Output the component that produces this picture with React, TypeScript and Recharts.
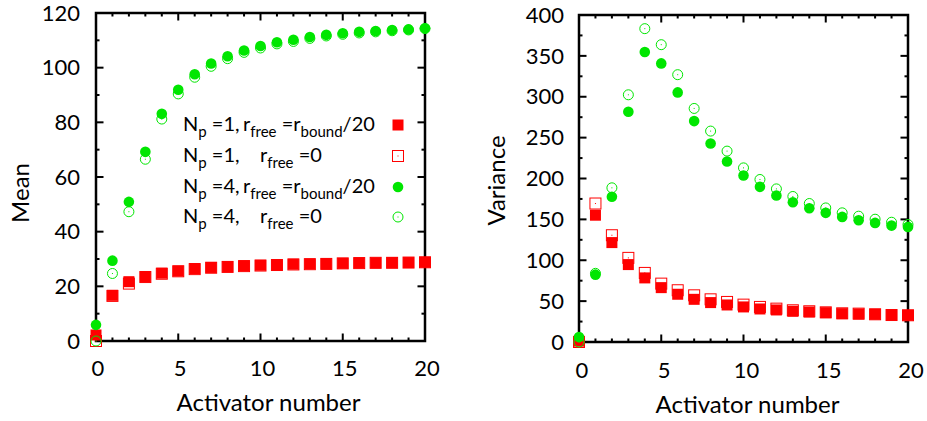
import React from 'react';
import { ScatterChart, Scatter, XAxis, YAxis, Legend, ReferenceArea } from 'recharts';

const RED = '#ff0000';
const GREEN = '#00e600';
const FONT = 'Lato, "Open Sans", sans-serif';

// activator number (x axis)
const activators = [0, 1, 2, 3, 4, 5, 6, 7, 8, 9, 10, 11, 12, 13, 14, 15, 16, 17, 18, 19, 20];

// Mean (left panel)
const meanNp1Bound = [2.2, 16.7, 21.7, 23.6, 24.8, 25.6, 26.5, 26.9, 27.2, 27.5, 27.7, 27.8, 28.1, 28.2, 28.3, 28.4, 28.6, 28.6, 28.7, 28.7, 28.8];
const meanNp1Zero = [0, 16.5, 21.0, 23.4, 24.6, 25.5, 26.3, 26.8, 27.1, 27.4, 27.6, 27.8, 28.0, 28.1, 28.2, 28.4, 28.5, 28.6, 28.6, 28.7, 28.8];
const meanNp4Bound = [5.9, 29.4, 50.9, 69.2, 83.1, 91.9, 97.6, 101.5, 104.2, 106.3, 107.9, 109.3, 110.2, 111.2, 112.0, 112.6, 113.1, 113.4, 113.8, 114.0, 114.4];
const meanNp4Zero = [0, 24.7, 47.3, 66.5, 81.2, 90.4, 96.5, 100.5, 103.3, 105.6, 107.2, 108.7, 109.6, 110.7, 111.6, 112.2, 112.7, 113.1, 113.5, 113.8, 114.3];

// Variance (right panel)
const varNp1Bound = [1, 155.1, 121.6, 94.7, 78.4, 66.5, 58.4, 52.2, 48.2, 45.3, 42.9, 40.4, 39.2, 37.6, 36.7, 35.9, 34.7, 34.3, 33.9, 33.1, 32.7];
const varNp1Zero = [0, 169.4, 130.6, 102.9, 84.5, 71.4, 63.3, 57.1, 52.2, 49.0, 45.7, 42.9, 40.8, 38.8, 37.6, 36.3, 35.1, 34.7, 33.9, 33.0, 32.7];
const varNp4Bound = [6, 82.4, 177.6, 281.6, 354.7, 340.8, 305.3, 270.2, 242.9, 220.8, 203.7, 189.8, 179.2, 171.0, 163.7, 158.0, 153.0, 149.0, 145.7, 142.4, 140.8];
const varNp4Zero = [0, 84, 188.6, 302.4, 383.3, 363.7, 327.0, 285.7, 258.0, 233.5, 213.0, 198.8, 187.3, 178.0, 169.4, 164.0, 158.0, 153.9, 150.2, 146.5, 143.7];

// ticks
const xTicks = [0, 1, 2, 3, 4, 5, 6, 7, 8, 9, 10, 11, 12, 13, 14, 15, 16, 17, 18, 19, 20];
const meanTicks = [0, 10, 20, 30, 40, 50, 60, 70, 80, 90, 100, 110, 120];
const varTicks = [0, 25, 50, 75, 100, 125, 150, 175, 200, 225, 250, 275, 300, 325, 350, 375, 400];

const toPoints = (ys: number[]) => activators.map((x, i) => ({ x, y: ys[i] }));

const FilledSquare = (p: any) => (
  <rect x={p.cx - 5.5} y={p.cy - 5.5} width={11} height={11} fill={RED} />
);
const OpenSquare = (p: any) => (
  <g>
    <rect x={p.cx - 5.5} y={p.cy - 5.5} width={11} height={11} fill="none" stroke={RED} strokeWidth={1} />
    <rect x={p.cx - 0.5} y={p.cy - 0.5} width={1} height={1} fill={RED} />
  </g>
);
const FilledCircle = (p: any) => <circle cx={p.cx} cy={p.cy} r={5.3} fill={GREEN} />;
const OpenCircle = (p: any) => (
  <g>
    <circle cx={p.cx} cy={p.cy} r={5} fill="none" stroke={GREEN} strokeWidth={1} />
    <rect x={p.cx - 0.5} y={p.cy - 0.5} width={1} height={1} fill={GREEN} />
  </g>
);

// inward tick marks, drawn as scatter series along each border of the frame
const makeTickShape = (side: string, key: 'x' | 'y', major: number) => (p: any) => {
  const v = p.payload ? p.payload[key] : 0;
  const len = Math.abs(v % major) < 1e-9 ? 7.5 : 3.5;
  const w = 2;
  if (side === 'bottom') return <rect x={p.cx - w / 2} y={p.cy - len} width={w} height={len} fill="#000" />;
  if (side === 'top') return <rect x={p.cx - w / 2} y={p.cy} width={w} height={len} fill="#000" />;
  if (side === 'left') return <rect x={p.cx} y={p.cy - w / 2} width={len} height={w} fill="#000" />;
  return <rect x={p.cx - len} y={p.cy - w / 2} width={len} height={w} fill="#000" />;
};

// tick labels only
const TickLabel = (props: any) => {
  const { x, y, payload, side, major, labelGap, dx = 0 } = props;
  const v = payload.value;
  if (Math.abs(v % major) > 1e-9) return <g />;
  if (side === 'bottom') {
    return (
      <text x={x + dx} y={y + labelGap} dy="0.35em" textAnchor="middle" fontSize={22} fontFamily={FONT} fill="#000">
        {v}
      </text>
    );
  }
  return (
    <text x={x - labelGap} y={y} dy="0.35em" textAnchor="end" fontSize={22} fontFamily={FONT} fill="#000">
      {v}
    </text>
  );
};

const LegendMarker = ({ kind }: { kind: string }) => (
  <svg width={14} height={14} style={{ position: 'absolute', left: 208, top: -7 }}>
    {kind === 'fs' && <FilledSquare cx={7} cy={7} />}
    {kind === 'os' && <OpenSquare cx={7} cy={7} />}
    {kind === 'fc' && <FilledCircle cx={7} cy={7} />}
    {kind === 'oc' && <OpenCircle cx={7} cy={7} />}
  </svg>
);

const subStyle: React.CSSProperties = { fontSize: 15, verticalAlign: -6, lineHeight: 0 };

const legendRows = [
  { np: '1', bound: true, kind: 'fs', top: 15 },
  { np: '1', bound: false, kind: 'os', top: 46 },
  { np: '4', bound: true, kind: 'fc', top: 77 },
  { np: '4', bound: false, kind: 'oc', top: 107 },
];

const MeanLegend = () => (
  <div style={{ position: 'relative', width: 230, height: 130, fontFamily: FONT, fontSize: 20, color: '#000' }}>
    {legendRows.map((r, i) => (
      <div key={i} style={{ position: 'absolute', left: 0, top: r.top, height: 0 }}>
        <span style={{ position: 'absolute', left: 0, top: -14, whiteSpace: 'nowrap', lineHeight: '24px' }}>
          N<span style={subStyle}>p</span> ={r.np},
        </span>
        <span
          style={{ position: 'absolute', left: r.bound ? 60 : 77, top: -14, whiteSpace: 'nowrap', lineHeight: '24px' }}
        >
          r<span style={subStyle}>free</span> ={r.bound ? <>r<span style={subStyle}>bound</span>/20</> : '0'}
        </span>
        <LegendMarker kind={r.kind} />
      </div>
    ))}
  </div>
);

const Title = ({ text, x, y, rotate }: { text: string; x: number; y: number; rotate?: boolean }) => (
  <text
    x={x}
    y={y}
    dy="0.35em"
    textAnchor="middle"
    fontSize={24}
    fontFamily={FONT}
    fill="#000"
    transform={rotate ? `rotate(-90, ${x}, ${y})` : undefined}
  >
    {text}
  </text>
);

// frame + inward ticks for a panel with x in [0,20] and y in [0,yMax]
function frameSeries(yMax: number, yTicks: number[], yMajor: number) {
  return [
    <ReferenceArea key="frame" x1={0} x2={20} y1={0} y2={yMax} fill="#ffffff" fillOpacity={0} stroke="#000" strokeWidth={2.5} />,
    <Scatter key="tb" data={xTicks.map((x) => ({ x, y: 0 }))} shape={makeTickShape('bottom', 'x', 5)} isAnimationActive={false} />,
    <Scatter key="tt" data={xTicks.map((x) => ({ x, y: yMax }))} shape={makeTickShape('top', 'x', 5)} isAnimationActive={false} />,
    <Scatter key="tl" data={yTicks.map((y) => ({ x: 0, y }))} shape={makeTickShape('left', 'y', yMajor)} isAnimationActive={false} />,
    <Scatter key="tr" data={yTicks.map((y) => ({ x: 20, y }))} shape={makeTickShape('right', 'y', yMajor)} isAnimationActive={false} />,
  ];
}

function MeanChart() {
  return (
    <ScatterChart width={463} height={421} margin={{ top: 13, right: 38, bottom: 20, left: 0 }}>
      <XAxis
        dataKey="x"
        type="number"
        domain={[0, 20]}
        ticks={xTicks}
        interval={0}
        height={60}
        tickLine={false}
        axisLine={false}
        tick={<TickLabel side="bottom" major={5} labelGap={19} dx={2} />}
        label={{ content: (p: any) => <Title text="Activator number" x={p.viewBox.x + p.viewBox.width / 2 + 8} y={p.viewBox.y + 62} /> }}
      />
      <YAxis
        dataKey="y"
        type="number"
        domain={[0, 120]}
        ticks={meanTicks}
        interval={0}
        width={96}
        tickLine={false}
        axisLine={false}
        tick={<TickLabel side="left" major={20} labelGap={8} />}
        label={{ content: (p: any) => <Title text="Mean" x={21} y={p.viewBox.y + p.viewBox.height / 2 + 16} rotate /> }}
      />
      <Legend
        layout="horizontal"
        verticalAlign="middle"
        align="center"
        content={() => <MeanLegend />}
        wrapperStyle={{ left: 183, top: 110, width: 230, height: 130 }}
      />
      {frameSeries(120, meanTicks, 20)}
      <Scatter data={toPoints(meanNp1Bound)} shape={FilledSquare} isAnimationActive={false} />
      <Scatter data={toPoints(meanNp1Zero)} shape={OpenSquare} isAnimationActive={false} />
      <Scatter data={toPoints(meanNp4Bound)} shape={FilledCircle} isAnimationActive={false} />
      <Scatter data={toPoints(meanNp4Zero)} shape={OpenCircle} isAnimationActive={false} />
    </ScatterChart>
  );
}

function VarianceChart() {
  return (
    <ScatterChart width={464} height={421} margin={{ top: 15, right: 19, bottom: 19, left: 0 }}>
      <XAxis
        dataKey="x"
        type="number"
        domain={[0, 20]}
        ticks={xTicks}
        interval={0}
        height={60}
        tickLine={false}
        axisLine={false}
        tick={<TickLabel side="bottom" major={5} labelGap={20} dx={3} />}
        label={{ content: (p: any) => <Title text="Activator number" x={p.viewBox.x + p.viewBox.width / 2 + 4} y={p.viewBox.y + 63} /> }}
      />
      <YAxis
        dataKey="y"
        type="number"
        domain={[0, 400]}
        ticks={varTicks}
        interval={0}
        width={116}
        tickLine={false}
        axisLine={false}
        tick={<TickLabel side="left" major={50} labelGap={7} />}
        label={{ content: (p: any) => <Title text="Variance" x={34} y={p.viewBox.y + p.viewBox.height / 2 + 2} rotate /> }}
      />
      {frameSeries(400, varTicks, 50)}
      <Scatter data={toPoints(varNp1Bound)} shape={FilledSquare} isAnimationActive={false} />
      <Scatter data={toPoints(varNp1Zero)} shape={OpenSquare} isAnimationActive={false} />
      <Scatter data={toPoints(varNp4Bound)} shape={FilledCircle} isAnimationActive={false} />
      <Scatter data={toPoints(varNp4Zero)} shape={OpenCircle} isAnimationActive={false} />
    </ScatterChart>
  );
}

export default function App() {
  return (
    <div style={{ position: 'absolute', left: 0, top: 0, width: 927, height: 421 }}>
      <div style={{ position: 'absolute', left: 0, top: 0 }}>
        <MeanChart />
      </div>
      <div style={{ position: 'absolute', left: 463, top: 0 }}>
        <VarianceChart />
      </div>
    </div>
  );
}
